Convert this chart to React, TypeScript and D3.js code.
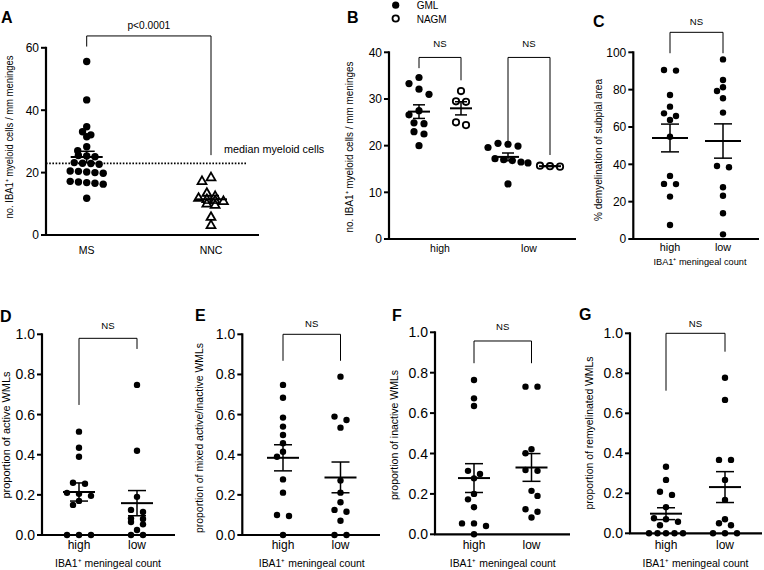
import React from "react";
import * as d3 from "d3";

const FONT = "'Liberation Sans', Arial, Helvetica, sans-serif";

// ---------- Panel A ----------
const A_CATEGORIES = ["MS", "NNC"];
const A_MS = [55.6, 43.3, 34.7, 33.1, 32.1, 31.5, 28.3, 27.0, 25.5, 25.3, 25.1, 23.2, 23.0, 22.9, 22.7, 20.5, 20.4, 20.2, 20.0, 19.8, 17.2, 17.0, 16.8, 16.6, 16.3, 11.8];
const A_NNC = [18.6, 17.4, 13.6, 12.6, 12.0, 11.6, 11.2, 11.0, 10.2, 9.8, 5.9, 3.3];
const A_TICKS = [0, 20, 40, 60];
const A_BRACKET = [63.8, 60.4, 25.6]; // top, left leg end, right leg end
const A_P_LABEL = "p<0.0001";
const A_MEDIAN_LABEL = "median myeloid cells";

// ---------- Panel B ----------
const B_CATEGORIES = ["high", "low"];
const B_SERIES = ["GML", "NAGM"];
const B_GML_HIGH = [34.6, 33.3, 32.1, 31.0, 27.5, 26.6, 24.9, 24.7, 23.0, 22.5, 20.0];
const B_NAGM_HIGH = [31.7, 29.5, 29.4, 25.0, 24.4];
const B_GML_LOW = [20.5, 20.3, 19.9, 19.6, 17.2, 17.0, 16.8, 16.5, 16.3, 11.8];
const B_NAGM_LOW = [15.7, 15.6, 15.5];
const B_TICKS = [0, 10, 20, 30, 40];
const B_BRACKET_HIGH = [38.9, 36.6, 34.0];
const B_BRACKET_LOW = [38.9, 20.8, 18.0];

// ---------- Panel C ----------
const C_HIGH = [90.5, 90.2, 77.1, 70.9, 67.3, 65.9, 63.8, 54.8, 33.8, 29.5, 29.4, 22.7, 7.5];
const C_LOW = [96.2, 85.2, 81.3, 79.3, 75.4, 67.7, 39.1, 38.4, 27.7, 23.2, 13.8, 2.5];
const C_TICKS = [0, 20, 40, 60, 80, 100];
const C_BRACKET = [110.7, 99.5, 99.5];

// ---------- Panels D-G ----------
const PROP_TICKS = [0, 0.2, 0.4, 0.6, 0.8, 1.0];
const D_HIGH = [0.515, 0.435, 0.39, 0.26, 0.255, 0.21, 0.205, 0.195, 0.17, 0.15, 0, 0, 0];
const D_LOW = [0.748, 0.42, 0.19, 0.125, 0.115, 0.083, 0.08, 0.065, 0.053, 0.025, 0, 0];
const D_BRACKET = [0.98, 0.648, 0.927];
const E_HIGH = [0.748, 0.684, 0.585, 0.54, 0.498, 0.457, 0.415, 0.39, 0.277, 0.211, 0.1, 0.095, 0];
const E_LOW = [0.789, 0.59, 0.573, 0.535, 0.271, 0.211, 0.163, 0.125, 0.116, 0.071, 0, 0];
const E_BRACKET = [1.0, 0.868, 0.868];
const F_HIGH = [0.764, 0.673, 0.635, 0.314, 0.299, 0.277, 0.2, 0.173, 0.134, 0.054, 0.054, 0.041, 0];
const F_LOW = [0.731, 0.731, 0.421, 0.401, 0.318, 0.314, 0.215, 0.19, 0.124, 0.112, 0.083];
const F_BRACKET = [0.957, 0.847, 0.847];
const G_HIGH = [0.333, 0.267, 0.208, 0.192, 0.13, 0.075, 0.07, 0.058, 0.04, 0, 0, 0, 0, 0];
const G_LOW = [0.778, 0.667, 0.367, 0.367, 0.267, 0.167, 0.07, 0.05, 0.04, 0, 0, 0];
const G_BRACKET = [1.0, 0.713, 0.908];

const Y_TITLE_A = "no. IBA1\u207A myeloid cells / mm meninges";
const Y_TITLE_C = "% demyelination of subpial area";
const Y_TITLE_D = "proportion of active WMLs";
const Y_TITLE_E = "proportion of mixed active/inactive WMLs";
const Y_TITLE_F = "proportion of inactive WMLs";
const Y_TITLE_G = "proportion of remyelinated WMLs";
const X_TITLE = "IBA1\u207A meningeal count";
const NS = "NS";

type Kind = "dot" | "ring" | "tri";
interface Group { cx: number; values: number[]; kind: Kind }
interface Bracket { xa: number; xb: number; v: number[]; label: string; labelY: number; labelSize: number }
interface Cfg {
  letter: string; letterX: number; letterY: number;
  axisX: number; axisEnd: number; yTopPx: number; yBotPx: number; yMax: number;
  ticks: number[]; tickFmt: (v: number) => string; tickSize: number;
  yTitle: string; yTitleX: number; yTitleY: number; titleSize: number; yTitleLen: number;
  cats: { label: string; cx: number }[]; catY: number; catSize: number;
  xTitle?: { x: number; y: number; size: number; len: number };
  groups: Group[]; r: number; step: number; maxW: number; thr: number; zig: number;
  meanHalf: number; capHalf: number;
  brackets: Bracket[];
}

function swarm(values: number[], y: (v: number) => number, r: number, step: number, maxW: number, thr: number, zig: number) {
  const order = values.map((_, i) => i).sort((a, b) => values[b] - values[a]);
  const rows: number[][] = [];
  let anchor = -Infinity;
  for (const i of order) {
    const py = y(values[i]);
    if (rows.length && Math.abs(py - anchor) <= thr) rows[rows.length - 1].push(i);
    else { rows.push([i]); anchor = py; }
  }
  const off: number[] = new Array(values.length).fill(0);
  const placed: { x: number; y: number }[] = [];
  let side = -1;
  for (const row of rows) {
    const n = row.length;
    if (n === 1) {
      const py = y(values[row[0]]);
      const cands = [0, side * zig, -side * zig, side * 2 * zig, -side * 2 * zig];
      let chosen = 0;
      for (const c of cands) {
        if (placed.every((p) => Math.hypot(p.x - c, p.y - py) >= 2 * r * 0.95)) { chosen = c; break; }
      }
      if (chosen !== 0) side = chosen > 0 ? -1 : 1;
      off[row[0]] = chosen;
      placed.push({ x: chosen, y: py });
    } else {
      const s = Math.min(step, maxW / (n - 1));
      row.forEach((i, k) => {
        off[i] = (k - (n - 1) / 2) * s;
        placed.push({ x: off[i], y: y(values[i]) });
      });
    }
  }
  return off;
}

function Panel({ c, children }: { c: Cfg; children?: (y: d3.ScaleLinear<number, number>) => React.ReactNode }) {
  const y = d3.scaleLinear().domain([0, c.yMax]).range([c.yBotPx, c.yTopPx]);
  const tri = d3.symbol().type(d3.symbolTriangle).size(34)() as string;
  return (
    <g>
      <text x={c.letterX} y={c.letterY} fontSize={16} fontWeight="bold" fontFamily={FONT}>{c.letter}</text>
      {/* axes */}
      <line x1={c.axisX} x2={c.axisX} y1={c.yBotPx} y2={y(c.ticks[c.ticks.length - 1]) - 1} stroke="#000" strokeWidth={2.2} />
      <line x1={c.axisX - 1} x2={c.axisEnd} y1={c.yBotPx} y2={c.yBotPx} stroke="#000" strokeWidth={2.2} />
      {c.ticks.map((t) => (
        <g key={t}>
          <line x1={c.axisX - 5} x2={c.axisX} y1={y(t)} y2={y(t)} stroke="#000" strokeWidth={2} />
          <text x={c.axisX - 7} y={y(t)} dy="0.36em" textAnchor="end" fontSize={c.tickSize} fontFamily={FONT}>{c.tickFmt(t)}</text>
        </g>
      ))}
      <text transform={`translate(${c.yTitleX},${c.yTitleY}) rotate(-90)`} x={-c.yTitleLen / 2} dy="0.35em"
        fontSize={c.titleSize} fontFamily={FONT} textLength={c.yTitleLen} lengthAdjust="spacingAndGlyphs">
        {c.yTitle}
      </text>
      {c.cats.map((k) => (
        <text key={k.label} x={k.cx} y={c.catY} textAnchor="middle" fontSize={c.catSize} fontFamily={FONT}>{k.label}</text>
      ))}
      {c.xTitle ? (
        <text x={c.xTitle.x - c.xTitle.len / 2} y={c.xTitle.y} fontSize={c.xTitle.size} fontFamily={FONT}
          textLength={c.xTitle.len} lengthAdjust="spacingAndGlyphs">
          {X_TITLE}
        </text>
      ) : null}
      {children ? children(y) : null}
      {/* points */}
      {c.groups.map((g, gi) => {
        const off = swarm(g.values, y, c.r, c.step, c.maxW, c.thr, c.zig);
        return (
          <g key={gi}>
            {g.values.map((v, i) =>
              g.kind === "tri" ? (
                <path key={i} d={tri} transform={`translate(${g.cx + off[i]},${y(v) + 0.8})`} fill="#fff" stroke="#000" strokeWidth={1.8} />
              ) : (
                <circle key={i} cx={g.cx + off[i]} cy={y(v)} r={g.kind === "ring" ? c.r - 0.4 : c.r}
                  fill={g.kind === "ring" ? "#fff" : "#000"} stroke="#000" strokeWidth={g.kind === "ring" ? 1.8 : 0} />
              )
            )}
          </g>
        );
      })}
      {/* mean + SEM */}
      {c.groups.map((g, gi) => {
        const m = d3.mean(g.values) as number;
        const sem = (d3.deviation(g.values) as number) / Math.sqrt(g.values.length);
        return (
          <g key={gi} stroke="#000">
            <line x1={g.cx - c.meanHalf} x2={g.cx + c.meanHalf} y1={y(m)} y2={y(m)} strokeWidth={2} />
            <line x1={g.cx} x2={g.cx} y1={y(m - sem)} y2={y(m + sem)} strokeWidth={1.5} />
            <line x1={g.cx - c.capHalf} x2={g.cx + c.capHalf} y1={y(m + sem)} y2={y(m + sem)} strokeWidth={1.5} />
            <line x1={g.cx - c.capHalf} x2={g.cx + c.capHalf} y1={y(m - sem)} y2={y(m - sem)} strokeWidth={1.5} />
          </g>
        );
      })}
      {/* brackets */}
      {c.brackets.map((b, bi) => (
        <g key={bi}>
          <path d={`M${b.xa},${y(b.v[1])}V${y(b.v[0])}H${b.xb}V${y(b.v[2])}`} fill="none" stroke="#000" strokeWidth={1} />
          <text x={(b.xa + b.xb) / 2} y={b.labelY} textAnchor="middle" fontSize={b.labelSize} fontFamily={FONT}>{b.label}</text>
        </g>
      ))}
    </g>
  );
}

const fmtInt = (v: number) => String(v);
const fmt1 = d3.format(".1f");

function proportionPanel(letter: string, lx: number, ly: number, axisX: number, axisEnd: number, yTop: number, yBot: number,
  hx: number, lwx: number, yTitle: string, ytx: number, yty: number, ylen: number, high: number[], low: number[], br: number[], nsY: number): Cfg {
  const x = d3.scalePoint<string>().domain(B_CATEGORIES).range([hx, lwx]);
  return {
    letter, letterX: lx, letterY: ly, axisX, axisEnd, yTopPx: yTop, yBotPx: yBot, yMax: 1,
    ticks: PROP_TICKS, tickFmt: fmt1, tickSize: 14,
    yTitle, yTitleX: ytx, yTitleY: yty, titleSize: 10.6, yTitleLen: ylen,
    cats: B_CATEGORIES.map((k) => ({ label: k, cx: x(k) as number })), catY: 549, catSize: 12,
    xTitle: { x: (hx + lwx) / 2, y: 567, size: 10.6, len: 106 },
    groups: [
      { cx: x("high") as number, values: high, kind: "dot" },
      { cx: x("low") as number, values: low, kind: "dot" },
    ],
    r: 3.2, step: 12, maxW: 34, thr: 3.5, zig: 6, meanHalf: 16, capHalf: 9,
    brackets: [{ xa: x("high") as number, xb: x("low") as number, v: br, label: NS, labelY: nsY, labelSize: 9.6 }],
  };
}

export default function App() {
  const ax = d3.scalePoint<string>().domain(A_CATEGORIES).range([86.7, 211]);
  const cfgA: Cfg = {
    letter: "A", letterX: 1, letterY: 23, axisX: 46, axisEnd: 259, yTopPx: 47.8, yBotPx: 235, yMax: 60,
    ticks: A_TICKS, tickFmt: fmtInt, tickSize: 12,
    yTitle: Y_TITLE_A, yTitleX: 9, yTitleY: 137, titleSize: 10, yTitleLen: 163,
    cats: A_CATEGORIES.map((k) => ({ label: k, cx: ax(k) as number })), catY: 254, catSize: 10.5,
    groups: [
      { cx: ax("MS") as number, values: A_MS, kind: "dot" },
      { cx: ax("NNC") as number, values: A_NNC, kind: "tri" },
    ],
    r: 3.7, step: 8.3, maxW: 33, thr: 3.5, zig: 4.5, meanHalf: 16, capHalf: 8,
    brackets: [{ xa: ax("MS") as number, xb: ax("NNC") as number, v: A_BRACKET, label: A_P_LABEL, labelY: 29, labelSize: 10.2 }],
  };

  const bx = d3.scalePoint<string>().domain(B_CATEGORIES).range([440, 529]);
  const bs = d3.scalePoint<string>().domain(B_SERIES).range([-21, 21]);
  const bpos = (c: string, s: string) => (bx(c) as number) + (bs(s) as number);
  const cfgB: Cfg = {
    letter: "B", letterX: 347, letterY: 23, axisX: 389, axisEnd: 576, yTopPx: 52.3, yBotPx: 239, yMax: 40,
    ticks: B_TICKS, tickFmt: fmtInt, tickSize: 12,
    yTitle: Y_TITLE_A, yTitleX: 349, yTitleY: 147, titleSize: 10, yTitleLen: 171,
    cats: B_CATEGORIES.map((k) => ({ label: k, cx: bx(k) as number })), catY: 252, catSize: 10.5,
    groups: [
      { cx: bpos("high", "GML"), values: B_GML_HIGH, kind: "dot" },
      { cx: bpos("high", "NAGM"), values: B_NAGM_HIGH, kind: "ring" },
      { cx: bpos("low", "GML"), values: B_GML_LOW, kind: "dot" },
      { cx: bpos("low", "NAGM"), values: B_NAGM_LOW, kind: "ring" },
    ],
    r: 3.6, step: 10, maxW: 26, thr: 3.5, zig: 10, meanHalf: 11, capHalf: 6,
    brackets: [
      { xa: bpos("high", "GML"), xb: bpos("high", "NAGM"), v: B_BRACKET_HIGH, label: NS, labelY: 47, labelSize: 9.6 },
      { xa: bpos("low", "GML"), xb: bpos("low", "NAGM"), v: B_BRACKET_LOW, label: NS, labelY: 47, labelSize: 9.6 },
    ],
  };

  const cx = d3.scalePoint<string>().domain(B_CATEGORIES).range([670, 723]);
  const cfgC: Cfg = {
    letter: "C", letterX: 593, letterY: 27, axisX: 633.3, axisEnd: 759, yTopPx: 52.3, yBotPx: 239, yMax: 100,
    ticks: C_TICKS, tickFmt: fmtInt, tickSize: 12,
    yTitle: Y_TITLE_C, yTitleX: 598, yTitleY: 150, titleSize: 10, yTitleLen: 142,
    cats: B_CATEGORIES.map((k) => ({ label: k, cx: cx(k) as number })), catY: 251, catSize: 10.8,
    xTitle: { x: 700, y: 265, size: 9.6, len: 93 },
    groups: [
      { cx: cx("high") as number, values: C_HIGH, kind: "dot" },
      { cx: cx("low") as number, values: C_LOW, kind: "dot" },
    ],
    r: 3.2, step: 12, maxW: 34, thr: 3.5, zig: 6, meanHalf: 18, capHalf: 9,
    brackets: [{ xa: cx("high") as number, xb: cx("low") as number, v: C_BRACKET, label: NS, labelY: 25, labelSize: 9.6 }],
  };

  const cfgD = proportionPanel("D", 0, 322, 42, 175, 334.3, 535, 79, 137, Y_TITLE_D, 6, 435, 127, D_HIGH, D_LOW, D_BRACKET, 329);
  const cfgE = proportionPanel("E", 195, 321, 242.3, 380, 334.3, 535, 283, 340.5, Y_TITLE_E, 199, 438, 190, E_HIGH, E_LOW, E_BRACKET, 327);
  const cfgF = proportionPanel("F", 392, 321, 435, 570, 332.3, 534.3, 474, 531.5, Y_TITLE_F, 394, 435, 130, F_HIGH, F_LOW, F_BRACKET, 330);
  const cfgG = proportionPanel("G", 579, 320, 630, 762, 333.3, 533.3, 666, 725, Y_TITLE_G, 589, 433, 153, G_HIGH, G_LOW, G_BRACKET, 327);

  return (
    <svg width={764} height={570} style={{ position: "absolute", left: 0, top: 0, background: "#fff" }} fontFamily={FONT}>
      <Panel c={cfgA}>
        {(y) => (
          <g>
            <line x1={46} x2={246} y1={y(d3.median(A_MS) as number)} y2={y(d3.median(A_MS) as number)} stroke="#000" strokeWidth={1.6} strokeDasharray="1.6,1.6" />
            <text x={224} y={153} fontSize={10.8} fontFamily={FONT}>{A_MEDIAN_LABEL}</text>
          </g>
        )}
      </Panel>
      <Panel c={cfgB} />
      {/* legend B */}
      <circle cx={395.7} cy={5.2} r={3.6} fill="#000" />
      <text x={416.7} y={9} fontSize={10} fontFamily={FONT}>{B_SERIES[0]}</text>
      <circle cx={395.7} cy={18.5} r={3.2} fill="#fff" stroke="#000" strokeWidth={1.8} />
      <text x={416.7} y={22.5} fontSize={10} fontFamily={FONT}>{B_SERIES[1]}</text>
      <Panel c={cfgC} />
      <Panel c={cfgD} />
      <Panel c={cfgE} />
      <Panel c={cfgF} />
      <Panel c={cfgG} />
    </svg>
  );
}
